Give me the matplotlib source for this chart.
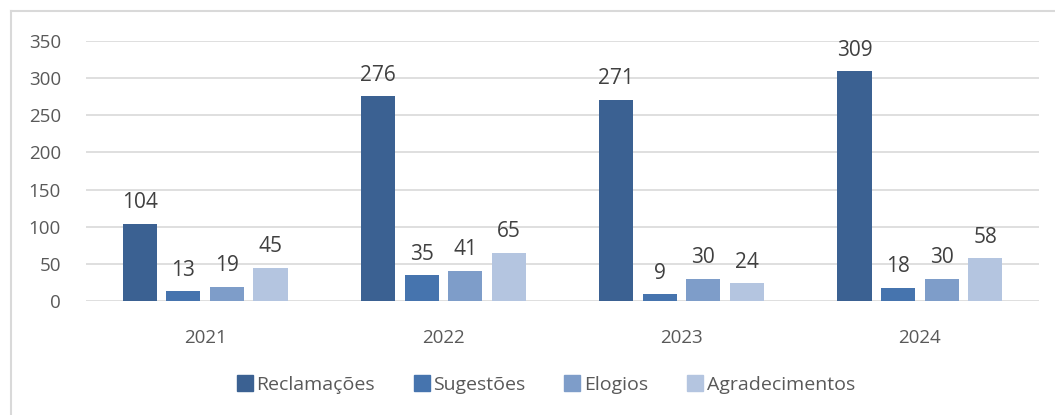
import numpy as np
import matplotlib.pyplot as plt
from matplotlib.lines import Line2D

plt.rcParams['font.family'] = ['Open Sans', 'DejaVu Sans']

years = ['2021', '2022', '2023', '2024']
series = ['Reclamações', 'Sugestões', 'Elogios', 'Agradecimentos']
reclamacoes = [104, 276, 271, 309]
sugestoes = [13, 35, 9, 18]
elogios = [19, 41, 30, 30]
agradecimentos = [45, 65, 24, 58]
colors = ['#3b6192', '#4674ae', '#7e9dc9', '#b4c5e0']

values = [reclamacoes, sugestoes, elogios, agradecimentos]
text_color = '#595959'

fig = plt.figure(figsize=(10.55, 4.15), dpi=100)
ax = fig.add_axes([86 / 1055, 1 - 301 / 415, 953 / 1055, 260 / 415])

x = np.arange(len(years))
step = 0.183
width = 0.143
for i, (name, vals, c) in enumerate(zip(series, values, colors)):
    pos = x + (i - 1.5) * step
    ax.bar(pos, vals, width, color=c, label=name, zorder=2)
    for p, v in zip(pos, vals):
        ax.text(p, v + 14, str(v), ha='center', va='bottom',
                fontsize=15, color='#404040', zorder=3)

ax.set_xlim(-0.5, 3.5)
ax.set_ylim(0, 350)
ax.set_yticks(range(0, 351, 50))
ax.set_xticks(x)
ax.set_xticklabels(years)
ax.grid(axis='y', color='#d9d9d9', linewidth=1.2, zorder=0)
ax.tick_params(length=0, labelsize=13.5, colors=text_color)
ax.tick_params(axis='x', pad=20)
ax.tick_params(axis='y', pad=18)
for s in ax.spines.values():
    s.set_visible(False)

handles = [Line2D([], [], marker='s', linestyle='none', markersize=11,
                  color=c) for c in colors]
fig.legend(handles, series, loc='center', bbox_to_anchor=(545 / 1055, 1 - 385 / 415),
           ncol=4, frameon=False, fontsize=14, labelcolor=text_color,
           handletextpad=0.1, columnspacing=1.9, handlelength=1.0)

# chart border (left and top edges visible)
fig.add_artist(Line2D([10.5 / 1055, 10.5 / 1055], [0, 1 - 11 / 415],
                      color='#d9d9d9', linewidth=1.5, transform=fig.transFigure))
fig.add_artist(Line2D([10.5 / 1055, 1], [1 - 11 / 415, 1 - 11 / 415],
                      color='#d9d9d9', linewidth=1.5, transform=fig.transFigure))

fig.savefig('out.png', dpi=100)
